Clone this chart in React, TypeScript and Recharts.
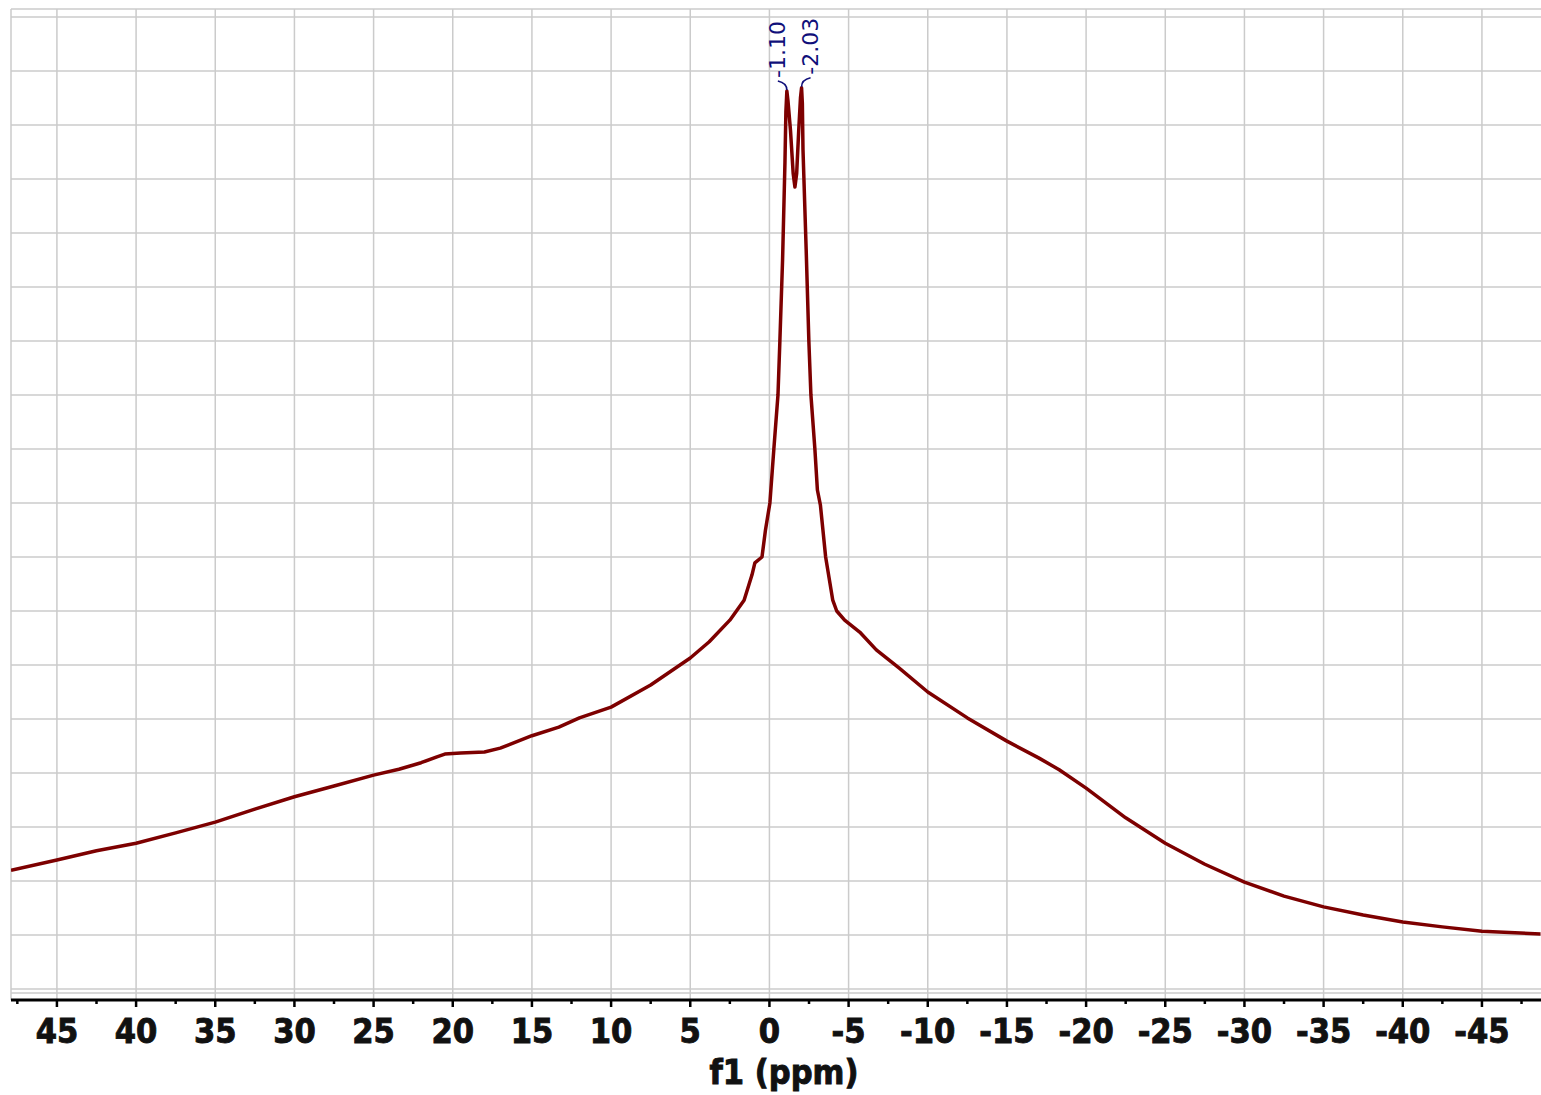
import { LineChart, Line, XAxis, YAxis, ReferenceLine, ReferenceDot } from 'recharts'

// chemical shift (ppm) and intensity (grid units)
const PPM = [
    47.9, 45, 42.5, 40, 37.5, 35, 32.5, 30, 27.5, 25, 23.4, 22, 21, 20.5, 19.5, 18, 17, 15, 13.3, 12, 10, 7.5, 5,
    3.8, 2.5, 1.6, 1.1, 0.92, 0.47, 0.25, -0.03, -0.28, -0.54, -0.66, -0.83, -0.98, -1.04, -1.1, -1.17, -1.33, -1.5,
    -1.61, -1.72, -1.85, -1.96, -2.03, -2.08, -2.12, -2.32, -2.49, -2.62, -2.87, -3.03, -3.22, -3.55, -4.0, -4.25,
    -4.75, -5.7, -6.75, -8.2, -10, -12.5, -15, -17, -18.3, -20, -22.5, -25, -27.5, -30, -32.5, -35, -37.5, -40, -42.5,
    -45, -48.7,
]
const INTENSITY = [
    2.2, 2.39, 2.56, 2.7, 2.89, 3.09, 3.33, 3.56, 3.76, 3.96, 4.07, 4.19, 4.3, 4.35, 4.37, 4.39, 4.46, 4.69, 4.85,
    5.02, 5.22, 5.63, 6.13, 6.43, 6.83, 7.2, 7.67, 7.89, 8.0, 8.5, 9.0, 10.0, 11.0, 12.0, 13.5, 15.3, 16.25, 16.63,
    16.45, 15.9, 15.1, 14.85, 15.1, 15.9, 16.5, 16.69, 16.4, 15.54, 13.7, 12.0, 11.0, 10.0, 9.24, 8.96, 8.0, 7.2, 7.0,
    6.83, 6.61, 6.28, 5.94, 5.5, 5.02, 4.59, 4.28, 4.06, 3.72, 3.17, 2.7, 2.31, 1.98, 1.72, 1.52, 1.37, 1.24, 1.15,
    1.07, 1.02,
]

const MAJOR_TICKS = [45, 40, 35, 30, 25, 20, 15, 10, 5, 0, -5, -10, -15, -20, -25, -30, -35, -40, -45]
const MINOR_TICKS = [47.5, 42.5, 37.5, 32.5, 27.5, 22.5, 17.5, 12.5, 7.5, 2.5, -2.5, -7.5, -12.5, -17.5, -22.5, -27.5, -32.5, -37.5, -42.5, -47.5]
const GRID_Y = [0, 1, 2, 3, 4, 5, 6, 7, 8, 9, 10, 11, 12, 13, 14, 15, 16, 17, 18]

const PEAK_PPM = [-1.1, -2.03]
const PEAK_HEIGHT = [16.63, 16.69]
const PEAK_LABELS = ['-1.10', '-2.03']

const X_DOMAIN: [number, number] = [-48.73, 47.9]
const Y_DOMAIN: [number, number] = [-0.204, 18.148]

const data = PPM.map((ppm, i) => ({ ppm, v: INTENSITY[i] }))
const ticks = [...MAJOR_TICKS, ...MINOR_TICKS].sort((a, b) => b - a)

const GRID = '#cbcbcb'
const LABEL_BLUE = '#10107a'
const AXIS_FONT = "'DejaVu Sans Condensed', 'DejaVu Sans', sans-serif"

function AxisTick({ x, y, payload }: any) {
    const major = payload.value % 5 === 0
    return (
        <g>
            <line x1={x} x2={x} y1={y} y2={y + (major ? 7 : 4)} stroke="#000" strokeWidth={2.5} />
            {major && (
                <text
                    x={x}
                    y={y + 43}
                    textAnchor="middle"
                    fontFamily={AXIS_FONT}
                    fontWeight="bold"
                    fontSize={34}
                    fill="#111"
                    stroke="#111"
                    strokeWidth={0.9}
                >
                    {payload.value}
                </text>
            )}
        </g>
    )
}

function PeakMark({ cx, cy, text, side }: any) {
    const lx = cx + side * 9
    const base = cy - 13
    return (
        <g>
            <path
                d={`M${cx},${cy - 1} Q${cx},${base + 5} ${lx},${base + 3}`}
                fill="none"
                stroke={LABEL_BLUE}
                strokeWidth={1.6}
            />
            <text
                x={lx}
                y={base}
                transform={`rotate(-90 ${lx} ${base})`}
                dominantBaseline="central"
                fontFamily="'DejaVu Sans', sans-serif"
                fontSize={22}
                fill={LABEL_BLUE}
            >
                {text}
            </text>
        </g>
    )
}

function TitleLabel({ viewBox }: any) {
    return (
        <text
            x={viewBox.x + viewBox.width / 2 + 8}
            y={viewBox.y + 84}
            textAnchor="middle"
            fontFamily={AXIS_FONT}
            fontWeight="bold"
            fontSize={34}
            fill="#111"
            stroke="#111"
            strokeWidth={0.9}
        >
            f1 (ppm)
        </text>
    )
}

export default function App() {
    return (
        <div style={{ position: 'absolute', left: 0, top: 0, background: '#fff' }}>
            <LineChart width={1541} height={1095} data={data} margin={{ top: 9, right: 0, left: 11, bottom: 0 }}>
                {GRID_Y.map((g) => (
                    <ReferenceLine key={`h${g}`} y={g} stroke={GRID} strokeWidth={1.5} />
                ))}
                <ReferenceLine y={Y_DOMAIN[1]} stroke={GRID} strokeWidth={1.5} />
                <ReferenceLine y={-0.074} stroke={GRID} strokeWidth={1.5} />
                {MAJOR_TICKS.map((t) => (
                    <ReferenceLine key={`v${t}`} x={t} stroke={GRID} strokeWidth={1.5} />
                ))}
                <ReferenceLine x={X_DOMAIN[1]} stroke={GRID} strokeWidth={1.5} />
                <XAxis
                    dataKey="ppm"
                    type="number"
                    domain={X_DOMAIN}
                    reversed
                    allowDataOverflow
                    ticks={ticks}
                    interval={0}
                    tickSize={0}
                    tickMargin={0}
                    tickLine={false}
                    tick={<AxisTick />}
                    axisLine={{ stroke: '#000', strokeWidth: 3 }}
                    height={95}
                    label={<TitleLabel />}
                />
                <YAxis type="number" domain={Y_DOMAIN} allowDataOverflow hide />
                <Line
                    type="linear"
                    dataKey="v"
                    stroke="#7d0000"
                    strokeWidth={3.5}
                    strokeLinejoin="round"
                    dot={false}
                    isAnimationActive={false}
                />
                {PEAK_PPM.map((p, i) => (
                    <ReferenceDot
                        key={`p${i}`}
                        x={p}
                        y={PEAK_HEIGHT[i]}
                        r={1}
                        ifOverflow="visible"
                        shape={(props: any) => <PeakMark {...props} text={PEAK_LABELS[i]} side={i === 0 ? -1 : 1} />}
                    />
                ))}
            </LineChart>
        </div>
    )
}
